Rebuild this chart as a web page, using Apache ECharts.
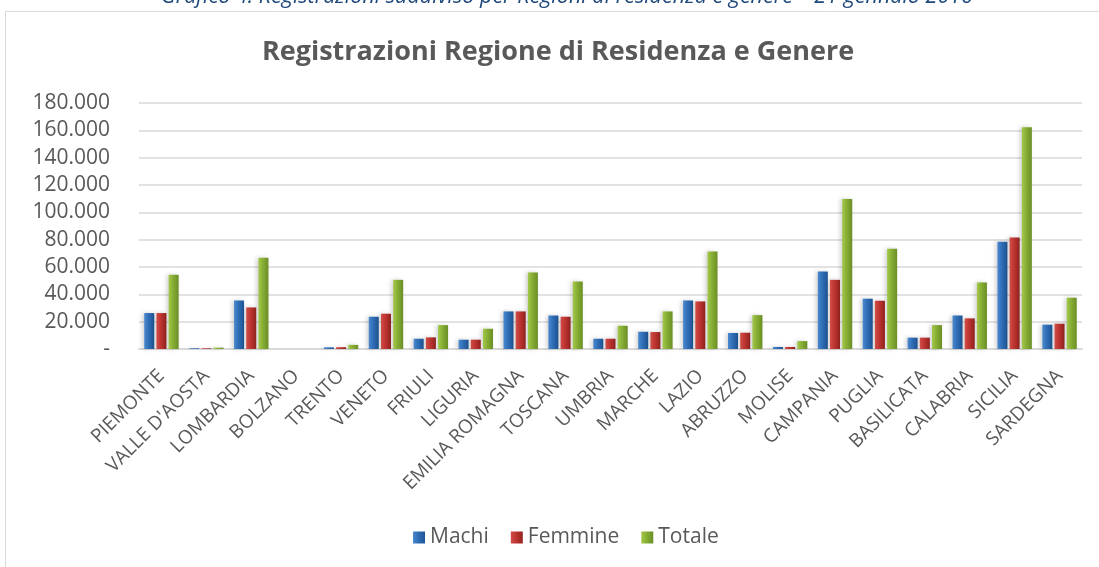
<!DOCTYPE html>
<html>
<head>
<meta charset="utf-8">
<script src="https://cdn.jsdelivr.net/npm/echarts@6/dist/echarts.min.js"></script>
<style>
  html, body { margin: 0; padding: 0; background: #fff; }
  #chart { width: 1099px; height: 567px; }
</style>
</head>
<body>
<div id="chart"></div>
<script>
// regions, values
const regioni = ['PIEMONTE', "VALLE D'AOSTA", 'LOMBARDIA', 'BOLZANO', 'TRENTO', 'VENETO', 'FRIULI',
  'LIGURIA', 'EMILIA ROMAGNA', 'TOSCANA', 'UMBRIA', 'MARCHE', 'LAZIO', 'ABRUZZO', 'MOLISE',
  'CAMPANIA', 'PUGLIA', 'BASILICATA', 'CALABRIA', 'SICILIA', 'SARDEGNA']
const machi = [26300, 500, 35500, 0, 1200, 23600, 7500, 6800, 27500, 24500, 7500, 12600, 35500,
  11700, 1500, 56700, 36800, 8300, 24500, 78400, 17800]
const femmine = [26300, 500, 30400, 0, 1300, 25800, 8500, 6800, 27500, 23600, 7500, 12400, 34800,
  11900, 1500, 50600, 35300, 8300, 22400, 81500, 18500]
const totale = [54300, 1000, 66700, 0, 3000, 50600, 17500, 14800, 56000, 49400, 17000, 27500, 71300,
  24800, 5800, 109800, 73300, 17500, 48700, 162200, 37500]

const chart = echarts.init(document.getElementById('chart'))

function shade(left, mid, right) {
  return new echarts.graphic.LinearGradient(0, 0, 1, 0, [
    { offset: 0, color: left },
    { offset: 0.45, color: mid },
    { offset: 1, color: right }
  ])
}

function serie(name, data, left, mid, right) {
  return {
    name: name,
    type: 'bar',
    barWidth: 10,
    barGap: '22%',
    data: data,
    itemStyle: {
      color: shade(left, mid, right),
      shadowColor: 'rgba(0,0,0,0.18)',
      shadowBlur: 4,
      shadowOffsetX: -2
    }
  }
}

const fmt = v => v === 0 ? '-' : v.toLocaleString('de-DE')

const option = {
  animation: false,
  backgroundColor: '#fff',
  textStyle: { fontFamily: 'Open Sans' },
  graphic: [{
    type: 'rect',
    shape: { x: 5.5, y: 11.5, width: 1110, height: 600 },
    style: { fill: 'none', stroke: '#d9d9d9', lineWidth: 1 },
    z: -1
  }, {
    // caption above the frame, cut by the top edge
    type: 'text',
    x: 567,
    y: -3,
    style: {
      text: 'Grafico 4: Registrazioni suddiviso per Regioni di residenza e genere – 21 gennaio 2016',
      fill: '#1f497d',
      font: 'italic 21.5px "Open Sans"',
      textAlign: 'center',
      textVerticalAlign: 'middle'
    }
  }, {
    type: 'text',
    x: 558,
    y: 52,
    style: {
      text: 'Registrazioni Regione di Residenza e Genere',
      fill: '#595959',
      font: 'bold 27px "Open Sans"',
      textAlign: 'center',
      textVerticalAlign: 'middle'
    }
  }],
  legend: {
    bottom: 14,
    left: 408,
    itemWidth: 12,
    itemHeight: 12,
    itemGap: 22,
    icon: 'rect',
    textStyle: { color: '#595959', fontSize: 21 },
    data: ['Machi', 'Femmine', 'Totale']
  },
  grid: { left: 139, right: 17, top: 103, bottom: 218, containLabel: false },
  xAxis: {
    type: 'category',
    data: regioni,
    axisLine: { lineStyle: { color: '#d9d9d9', width: 2 } },
    axisTick: { show: false },
    axisLabel: { interval: 0, rotate: 45, color: '#595959', fontSize: 19, margin: 24 }
  },
  yAxis: {
    type: 'value',
    min: 0,
    max: 180000,
    interval: 20000,
    axisLine: { show: false },
    axisTick: { show: false },
    splitLine: { lineStyle: { color: '#d9d9d9', width: 1.5 } },
    axisLabel: { color: '#595959', fontSize: 21, margin: 29, formatter: fmt }
  },
  series: [
    serie('Machi', machi, '#4a88d0', '#2f6db5', '#1f5596'),
    serie('Femmine', femmine, '#d24c48', '#bd3430', '#96231f'),
    serie('Totale', totale, '#a3c84a', '#86ad34', '#6a8e25')
  ]
}

chart.setOption(option)
</script>
</body>
</html>
